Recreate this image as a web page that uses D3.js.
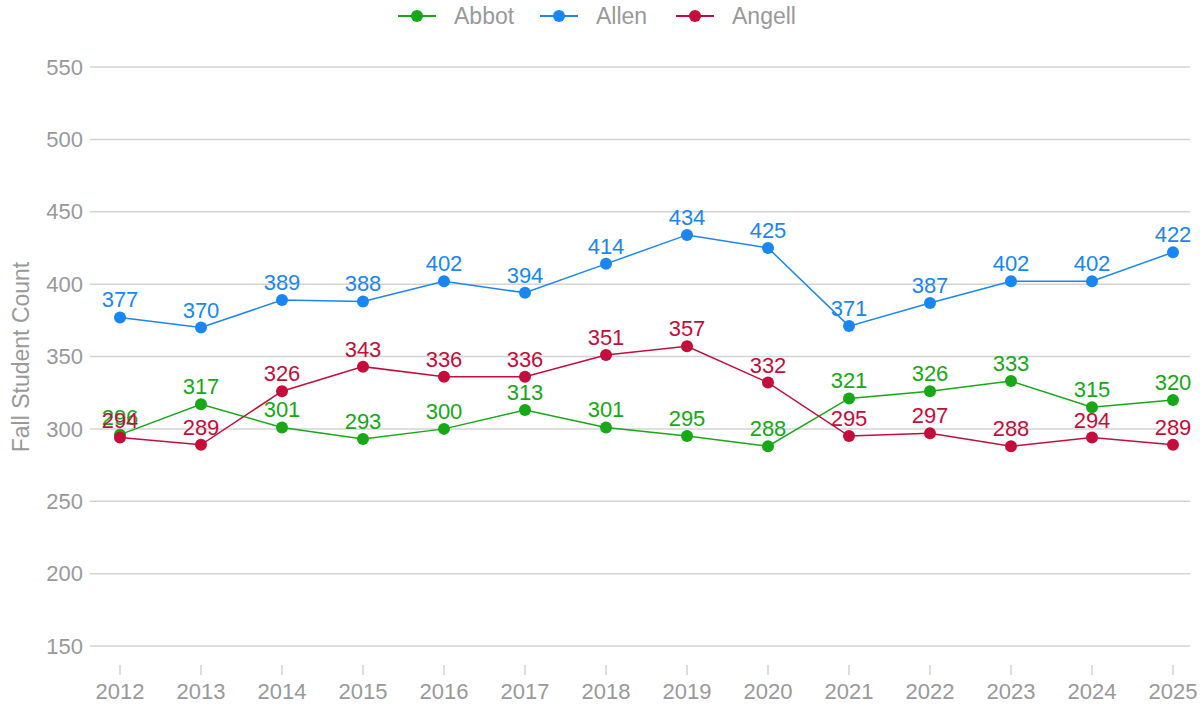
<!DOCTYPE html>
<html>
<head>
<meta charset="utf-8">
<script src="https://cdn.jsdelivr.net/npm/d3@7"></script>
<style>
  body { margin: 0; background: #fff; }
  svg { font-family: "Liberation Sans", Arial, sans-serif; }
</style>
</head>
<body>
<svg id="chart" width="1200" height="704"></svg>
<script>
var years = [2012, 2013, 2014, 2015, 2016, 2017, 2018, 2019, 2020, 2021, 2022, 2023, 2024, 2025];
var abbot = [296, 317, 301, 293, 300, 313, 301, 295, 288, 321, 326, 333, 315, 320];
var allen = [377, 370, 389, 388, 402, 394, 414, 434, 425, 371, 387, 402, 402, 422];
var angell = [294, 289, 326, 343, 336, 336, 351, 357, 332, 295, 297, 288, 294, 289];
var yTicks = [150, 200, 250, 300, 350, 400, 450, 500, 550];

var series = [
  { name: "Abbot", values: abbot, color: "#16a816" },
  { name: "Allen", values: allen, color: "#1a86f2" },
  { name: "Angell", values: angell, color: "#c40d3a" }
];

var svg = d3.select("#chart");

var x = d3.scalePoint().domain(years).range([120, 1173]);
var y = d3.scaleLinear().domain([150, 550]).range([646, 67]);

// grid
svg.append("g").selectAll("line")
  .data(yTicks)
  .enter().append("line")
  .attr("x1", 90).attr("x2", 1190)
  .attr("y1", function(d) { return y(d); })
  .attr("y2", function(d) { return y(d); })
  .attr("stroke", "#d4d4d4")
  .attr("stroke-width", 1.5);

// y tick labels
svg.append("g").selectAll("text")
  .data(yTicks)
  .enter().append("text")
  .attr("x", 83)
  .attr("y", function(d) { return y(d); })
  .attr("dy", "0.35em")
  .attr("text-anchor", "end")
  .attr("fill", "#999")
  .style("font-size", "22px")
  .text(function(d) { return d; });

// x axis ticks
var xg = svg.append("g");
xg.selectAll("line")
  .data(years)
  .enter().append("line")
  .attr("x1", function(d) { return x(d); })
  .attr("x2", function(d) { return x(d); })
  .attr("y1", 665).attr("y2", 675)
  .attr("stroke", "#bbb")
  .attr("stroke-width", 1);
xg.selectAll("text")
  .data(years)
  .enter().append("text")
  .attr("x", function(d) { return x(d); })
  .attr("y", 699)
  .attr("text-anchor", "middle")
  .attr("fill", "#999")
  .style("font-size", "22px")
  .text(function(d) { return d; });

// y axis title
svg.append("text")
  .attr("transform", "translate(29,357) rotate(-90)")
  .attr("text-anchor", "middle")
  .attr("fill", "#999")
  .style("font-size", "23px")
  .text("Fall Student Count");

var line = d3.line()
  .x(function(d, i) { return x(years[i]); })
  .y(function(d) { return y(d); });

series.forEach(function(s) {
  var g = svg.append("g");
  g.append("path")
    .attr("d", line(s.values))
    .attr("fill", "none")
    .attr("stroke", s.color)
    .attr("stroke-width", 1.5);
  g.selectAll("circle")
    .data(s.values)
    .enter().append("circle")
    .attr("cx", function(d, i) { return x(years[i]); })
    .attr("cy", function(d) { return y(d); })
    .attr("r", 6)
    .attr("fill", s.color);
});

// labels on top of all lines
series.forEach(function(s) {
  svg.append("g").selectAll("text")
    .data(s.values)
    .enter().append("text")
    .attr("x", function(d, i) { return x(years[i]); })
    .attr("y", function(d) { return y(d) - 10; })
    .attr("text-anchor", "middle")
    .attr("fill", s.color)
    .style("font-size", "22px")
    .text(function(d) { return d; });
});

// legend
var legendX = [398, 540, 676];
var legend = svg.append("g");
series.forEach(function(s, i) {
  var lg = legend.append("g").attr("transform", "translate(" + legendX[i] + ",16)");
  lg.append("line").attr("x1", 0).attr("x2", 38).attr("y1", 0).attr("y2", 0)
    .attr("stroke", s.color).attr("stroke-width", 2);
  lg.append("circle").attr("cx", 19).attr("cy", 0).attr("r", 6).attr("fill", s.color);
  lg.append("text").attr("x", 56).attr("y", 0).attr("dy", "0.35em")
    .attr("fill", "#999").style("font-size", "23px").text(s.name);
});
</script>
</body>
</html>
